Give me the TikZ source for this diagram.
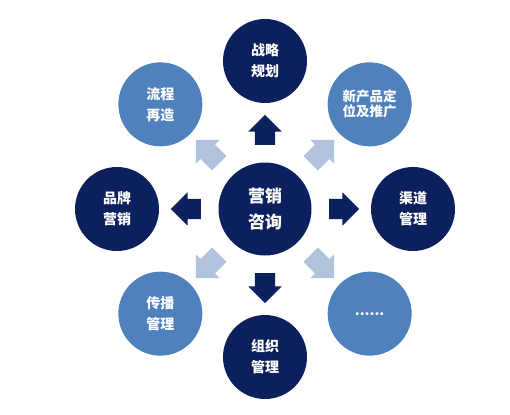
\documentclass[tikz,border=0pt]{standalone}
\usepackage{fontspec}
\setmainfont{Noto Sans CJK SC}
\usepackage{tikz}
\usetikzlibrary{shapes.arrows}
\definecolor{navy}{RGB}{13,32,94}
\definecolor{midblue}{RGB}{79,129,189}
\definecolor{paleblue}{RGB}{178,195,222}

\begin{document}
\begin{tikzpicture}[x=1pt, y=1pt]
        \tikzstyle{centerball} = [circle, fill=navy, minimum size=93pt, inner sep=0pt, text=white, align=center, font=\fontsize{17}{26}\selectfont\bfseries]
        \tikzstyle{darkball} = [circle, fill=navy, minimum size=84pt, inner sep=0pt, text=white, align=center, font=\fontsize{14}{21}\selectfont\bfseries]
        \tikzstyle{lightball} = [darkball, fill=midblue]
        \tikzstyle{bigarrow} = [single arrow, fill=navy, inner xsep=0pt, inner ysep=10pt, minimum height=30pt, single arrow head extend=6.5pt, single arrow head indent=0pt]
        \tikzstyle{palearrow} = [bigarrow, fill=paleblue, minimum height=33pt]
        \useasboundingbox (0,0) rectangle (510,-414);
        \node (hub) [centerball] at (265,-209) {营销\\咨询};
        % outer ring
        \node (plan) [darkball] at ([shift={(90:148)}]hub.center) {战略\\规划};
        \node (launch) [lightball, font=\fontsize{13.5}{15}\selectfont\bfseries] at ([shift={(45:148)}]hub.center) {新产品定\\位及推广};
        \node (channel) [darkball] at ([shift={(0:148)}]hub.center) {渠道\\管理};
        \node (more) [lightball] at ([shift={(-45:148)}]hub.center) {......};
        \node (org) [darkball] at ([shift={(-90:148)}]hub.center) {组织\\管理};
        \node (media) [lightball] at ([shift={(-135:148)}]hub.center) {传播\\管理};
        \node (brand) [darkball] at ([shift={(180:148)}]hub.center) {品牌\\营销};
        \node (process) [lightball] at ([shift={(135:148)}]hub.center) {流程\\再造};
        % arrows
        \node (toplan) [bigarrow, rotate=90] at ([shift={(90:74)}]hub.center) {};
        \node (tochannel) [bigarrow, rotate=0] at ([shift={(0:74)}]hub.center) {};
        \node (toorg) [bigarrow, rotate=-90] at ([shift={(-90:74)}]hub.center) {};
        \node (tobrand) [bigarrow, rotate=180] at ([shift={(180:74)}]hub.center) {};
        \node (tolaunch) [palearrow, rotate=45] at ([shift={(45:76)}]hub.center) {};
        \node (tomore) [palearrow, rotate=-45] at ([shift={(-45:76)}]hub.center) {};
        \node (tomedia) [palearrow, rotate=-135] at ([shift={(-135:76)}]hub.center) {};
        \node (toprocess) [palearrow, rotate=135] at ([shift={(135:76)}]hub.center) {};
\end{tikzpicture}
\end{document}
